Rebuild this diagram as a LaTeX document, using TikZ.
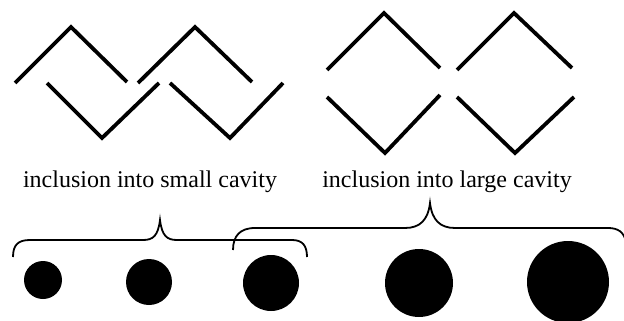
\documentclass[tikz,border=0pt]{standalone}
\usepackage{fontspec}
\setmainfont{Liberation Serif}
\begin{document}
\begin{tikzpicture}[x=1pt,y=-1pt,
  chain/.style={line width=3.8pt,line cap=butt,line join=miter},
  brace/.style={line width=1.8pt},
  guest/.style={fill=black},
  caption/.style={font=\fontsize{24}{28}\selectfont,inner sep=0pt,anchor=base}]
\useasboundingbox (0,0) rectangle (624,321);

% small cavity: interlocking zigzag chains
\draw[chain] (15,83) -- (71,27) -- (127,82);
\draw[chain] (47,83) -- (102,138) -- (159,83);
\draw[chain] (138,83) -- (195,27) -- (252,82);
\draw[chain] (170,83) -- (230,138) -- (283,83);

% large cavity: pairs of chevrons forming open squares
\draw[chain] (327,70) -- (384,13) -- (440,68);
\draw[chain] (327,97) -- (385,153) -- (440,95);
\draw[chain] (457,70) -- (514,13) -- (572,68);
\draw[chain] (457,97) -- (515,153) -- (574,97);

% captions
\node[caption] (small) at (150,187) {inclusion into small cavity};
\node[caption] (large) at (447,187) {inclusion into large cavity};

% braces grouping the guests
\draw[brace] (13,257) .. controls (13,245) and (18,240) .. (30,240) -- (143,240)
  .. controls (153,240) and (158,236) .. (160,220)
  .. controls (162,236) and (167,240) .. (177,240) -- (292,240)
  .. controls (302,240) and (307,245) .. (307,257);
\draw[brace] (233,250) .. controls (233,236) and (240,228) .. (255,228) -- (405,228)
  .. controls (420,228) and (428,220) .. (430,203)
  .. controls (432,220) and (440,228) .. (455,228) -- (608,228)
  .. controls (618,228) and (624,232) .. (626,242);

% guest molecules of increasing size
\fill[guest] (43,280) circle (19);
\fill[guest] (149,282) circle (23);
\fill[guest] (271,283) circle (28);
\fill[guest] (419,283) circle (34);
\fill[guest] (568,282) circle (41);
\end{tikzpicture}
\end{document}
